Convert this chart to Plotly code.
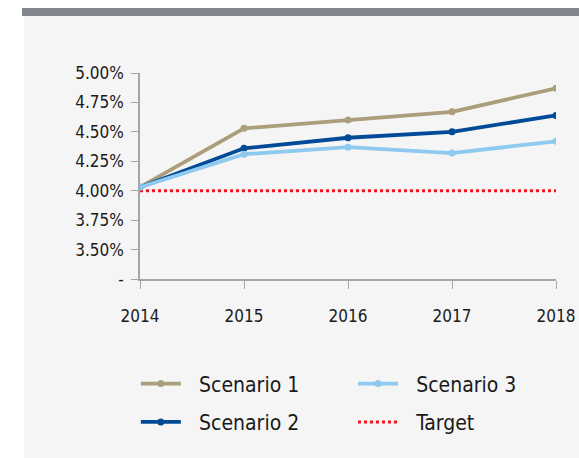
import plotly.graph_objects as go

years = [2014, 2015, 2016, 2017, 2018]
scenario1 = [4.03, 4.53, 4.60, 4.67, 4.87]
scenario2 = [4.03, 4.36, 4.45, 4.50, 4.64]
scenario3 = [4.03, 4.31, 4.37, 4.32, 4.42]
target = [4.00, 4.00, 4.00, 4.00, 4.00]
ytick_vals = [3.25, 3.50, 3.75, 4.00, 4.25, 4.50, 4.75, 5.00]
ytick_text = ["-", "3.50%", "3.75%", "4.00%", "4.25%", "4.50%", "4.75%", "5.00%"]

FONT = "DejaVu Sans Condensed, Liberation Sans Narrow, Roboto, sans-serif"
PAD = "\u2002\u2009"

fig = go.Figure()
fig.add_trace(go.Scatter(x=years, y=target, name=PAD + "Target", mode="lines", legendgroup="t",
                         line=dict(color="#f0141e", width=3, dash="dot"), legend="legend2", legendrank=2))
fig.add_trace(go.Scatter(x=years, y=scenario1, name=PAD + "Scenario 1", mode="lines+markers", legendgroup="s1",
                         line=dict(color="#aa9e7b", width=3.8), marker=dict(size=7), legend="legend", legendrank=1))
fig.add_trace(go.Scatter(x=years, y=scenario2, name=PAD + "Scenario 2", mode="lines+markers", legendgroup="s2",
                         line=dict(color="#004a97", width=3.8), marker=dict(size=7), legend="legend", legendrank=2))
fig.add_trace(go.Scatter(x=years, y=scenario3, name=PAD + "Scenario 3", mode="lines+markers", legendgroup="s3",
                         line=dict(color="#8ec9ef", width=3.8), marker=dict(size=7), legend="legend2", legendrank=1))

fig.update_layout(
    width=579, height=458, autosize=False,
    margin=dict(l=140, r=23, t=73, b=179),
    paper_bgcolor="white", plot_bgcolor="rgba(0,0,0,0)",
    font=dict(family=FONT, color="#1a1a1a"),
    showlegend=True,
    legend=dict(x=-0.01, y=-0.41, xanchor="left", yanchor="top", bgcolor="rgba(0,0,0,0)",
                font=dict(size=21, family=FONT), tracegroupgap=8, itemwidth=40, traceorder="grouped"),
    legend2=dict(x=0.512, y=-0.41, xanchor="left", yanchor="top", bgcolor="rgba(0,0,0,0)",
                 font=dict(size=21, family=FONT), tracegroupgap=8, itemwidth=40, traceorder="grouped"),
    shapes=[
        dict(type="rect", xref="paper", yref="paper", x0=(24-140)/416, x1=(579-140)/416,
             y0=(279-458)/206, y1=(279-16)/206, fillcolor="#f5f5f5", line=dict(width=0), layer="below"),
        dict(type="rect", xref="paper", yref="paper", x0=(22-140)/416, x1=(579-140)/416,
             y0=(279-16)/206, y1=(279-8)/206, fillcolor="#84868f", line=dict(width=0), layer="below"),
    ],
)
fig.update_xaxes(range=[2014, 2018], tickvals=years, ticks="outside", ticklen=8, tickcolor="#a6a6a6",
                 showline=True, linecolor="#a6a6a6", linewidth=1.5, showgrid=False, zeroline=False,
                 automargin=False, tickfont=dict(size=17, family=FONT), ticklabelstandoff=13)
fig.update_yaxes(range=[3.25, 5.0], tickvals=ytick_vals, ticktext=ytick_text, ticks="outside", ticklen=7,
                 tickcolor="#a6a6a6", showline=True, linecolor="#a6a6a6", linewidth=1.5, showgrid=False,
                 zeroline=False, automargin=False, tickfont=dict(size=17, family=FONT), ticklabelstandoff=4)

fig.write_html("out.html", config={"displayModeBar": False, "responsive": False},
               post_script="document.body.style.margin='0';document.body.style.overflow='hidden';")
